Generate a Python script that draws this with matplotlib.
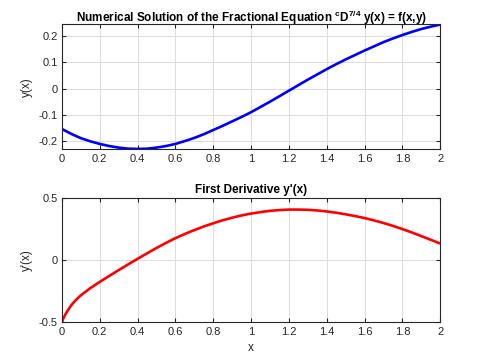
import matplotlib
matplotlib.use("Agg")
import matplotlib.pyplot as plt

plt.rcParams['font.family'] = ['Liberation Sans', 'DejaVu Sans']
plt.rcParams['mathtext.fontset'] = 'custom'
plt.rcParams['mathtext.rm'] = 'Liberation Sans'
plt.rcParams['mathtext.bf'] = 'Liberation Sans:bold'

# solution y(x)
x_sol = [0.0, 0.05, 0.1, 0.15, 0.2, 0.25, 0.3, 0.35, 0.4, 0.45, 0.5,
         0.55, 0.6, 0.65, 0.7, 0.75, 0.8, 0.85, 0.9, 0.95, 1.0,
         1.05, 1.1, 1.15, 1.2, 1.25, 1.3, 1.35, 1.4, 1.45, 1.5,
         1.55, 1.6, 1.65, 1.7, 1.75, 1.8, 1.85, 1.9, 1.95, 2.0]
y_sol = [-0.154, -0.173, -0.189, -0.201, -0.211, -0.219, -0.225, -0.229, -0.230, -0.229, -0.225,
         -0.219, -0.211, -0.200, -0.188, -0.174, -0.158, -0.142, -0.125, -0.108, -0.090,
         -0.070, -0.050, -0.029, -0.008, 0.013, 0.034, 0.054, 0.074, 0.093, 0.111,
         0.128, 0.145, 0.161, 0.177, 0.191, 0.204, 0.216, 0.227, 0.236, 0.244]

# first derivative y'(x)
x_der = [0.0, 0.005, 0.01, 0.02, 0.03, 0.05, 0.075, 0.1, 0.15, 0.2, 0.25, 0.3, 0.35, 0.4,
         0.45, 0.5, 0.55, 0.6, 0.65, 0.7, 0.75, 0.8, 0.85, 0.9, 0.95, 1.0,
         1.05, 1.1, 1.15, 1.2, 1.25, 1.3, 1.35, 1.4, 1.45, 1.5,
         1.55, 1.6, 1.65, 1.7, 1.75, 1.8, 1.85, 1.9, 1.95, 2.0]
y_der = [-0.5, -0.476, -0.46, -0.43, -0.405, -0.36, -0.318, -0.282, -0.224, -0.174, -0.126, -0.079, -0.033, 0.012,
         0.056, 0.099, 0.140, 0.178, 0.212, 0.243, 0.272, 0.298, 0.322, 0.343, 0.361, 0.376,
         0.388, 0.398, 0.404, 0.408, 0.408, 0.406, 0.401, 0.393, 0.383, 0.370,
         0.356, 0.340, 0.321, 0.300, 0.277, 0.251, 0.224, 0.195, 0.165, 0.135]

xticks = [0, 0.2, 0.4, 0.6, 0.8, 1, 1.2, 1.4, 1.6, 1.8, 2]
xticklabels = ['0', '0.2', '0.4', '0.6', '0.8', '1', '1.2', '1.4', '1.6', '1.8', '2']

fig = plt.figure(figsize=(4.88, 3.59), dpi=100)
ax1 = fig.add_axes([0.127, 0.584, 0.775, 0.348])
ax2 = fig.add_axes([0.127, 0.102, 0.775, 0.346])


def style(ax):
    ax.set_xlim(0, 2)
    ax.set_xticks(xticks)
    ax.set_xticklabels(xticklabels)
    ax.grid(True, color='#dcdcdc', linewidth=0.7)
    ax.set_axisbelow(True)
    ax.tick_params(direction='in', top=True, right=True, labelsize=8,
                   length=3, width=0.8, colors='#262626', pad=3)
    for s in ax.spines.values():
        s.set_color('#262626')
        s.set_linewidth(0.8)


ax1.plot(x_sol, y_sol, color='#0000ff', linewidth=1.9)
style(ax1)
ax1.set_ylim(-0.2316, 0.2446)
ax1.set_yticks([-0.2, -0.1, 0, 0.1, 0.2])
ax1.set_yticklabels(['-0.2', '-0.1', '0', '0.1', '0.2'])
ax1.set_ylabel('y(x)', fontsize=8.5, color='#262626', labelpad=4)
ax1.set_title(r'Numerical Solution of the Fractional Equation $^{\mathbf{c}}$D$^{\mathbf{7/4}}$ y(x) = f(x,y)',
              fontsize=8.5, fontweight='bold', pad=2)

ax2.plot(x_der, y_der, color='#ff0000', linewidth=1.9)
style(ax2)
ax2.set_ylim(-0.5, 0.5)
ax2.set_yticks([-0.5, 0, 0.5])
ax2.set_yticklabels(['-0.5', '0', '0.5'])
ax2.set_ylabel("y'(x)", fontsize=8.5, color='#262626', labelpad=4)
ax2.set_xlabel('x', fontsize=8.5, color='#262626', labelpad=4)
ax2.set_title("First Derivative y'(x)", fontsize=8.5, fontweight='bold', pad=4)

fig.savefig('out.png', dpi=100)
